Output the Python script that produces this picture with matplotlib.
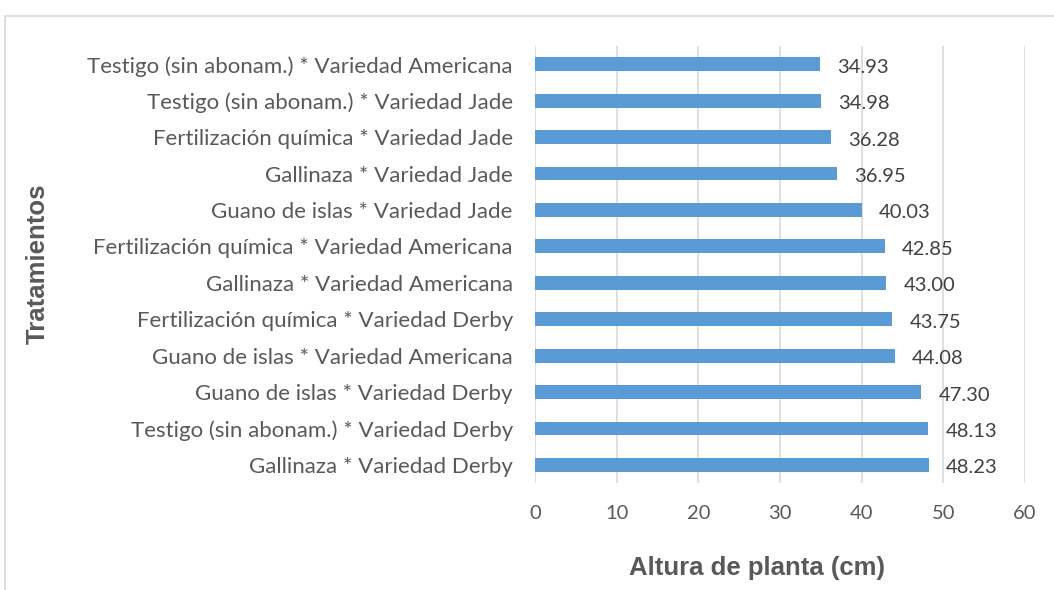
import matplotlib.pyplot as plt
from matplotlib.patches import Rectangle

tratamientos = [
    "Testigo (sin abonam.) * Variedad Americana",
    "Testigo (sin abonam.) * Variedad Jade",
    "Fertilización química * Variedad Jade",
    "Gallinaza * Variedad Jade",
    "Guano de islas * Variedad Jade",
    "Fertilización química * Variedad Americana",
    "Gallinaza * Variedad Americana",
    "Fertilización química * Variedad Derby",
    "Guano de islas * Variedad Americana",
    "Guano de islas * Variedad Derby",
    "Testigo (sin abonam.) * Variedad Derby",
    "Gallinaza * Variedad Derby",
]
altura = [34.93, 34.98, 36.28, 36.95, 40.03, 42.85, 43.00, 43.75, 44.08, 47.30, 48.13, 48.23]
xticks = [0, 10, 20, 30, 40, 50, 60]

fig = plt.figure(figsize=(10.54, 5.9), dpi=100)
ax = fig.add_axes([0.5076, 0.181, 0.465, 0.741])

# borde del area del grafico
fig.patches.append(Rectangle((5 / 1054, -0.1), 1.2, 1.1 - 16 / 590, transform=fig.transFigure,
                             fill=False, edgecolor="#D9D9D9", linewidth=1.2))

y = range(len(tratamientos))
ax.barh(y, altura, height=0.38, color="#5B9BD5", zorder=2)
for i, v in zip(y, altura):
    ax.text(v + 2.1, i + 0.08, f"{v:.2f}", va="center", ha="left", fontsize=14.5,
            color="#404040", family="Lato")

ax.set_ylim(len(tratamientos) - 0.5, -0.5)
ax.set_xlim(0, 60)
ax.set_xticks(xticks)
ax.set_yticks(list(y))
ax.set_yticklabels(tratamientos, fontsize=16, color="#595959", family="Lato")
ax.tick_params(axis="x", labelsize=14.5, labelcolor="#595959", length=0, pad=16)
ax.tick_params(axis="y", length=0, pad=16)
for lbl in ax.get_xticklabels():
    lbl.set_family("Lato")
ax.grid(axis="x", color="#D9D9D9", linewidth=1.2, zorder=0)
for s in ax.spines.values():
    s.set_visible(False)

fig.text(757 / 1054, 1 - 568 / 590, "Altura de planta (cm)", ha="center", va="center",
         fontsize=18.5, fontweight="bold", color="#595959", family="Liberation Sans")
fig.text(38 / 1054, 1 - 264 / 590, "Tratamientos", rotation=90, ha="center", va="center",
         fontsize=18.5, fontweight="bold", color="#595959", family="Liberation Sans")

fig.savefig("out.png", dpi=100)
